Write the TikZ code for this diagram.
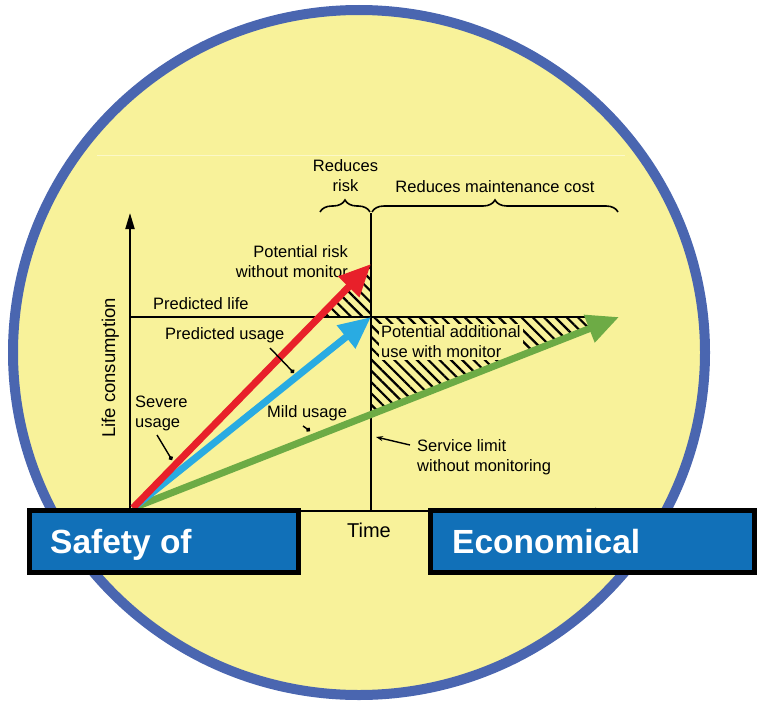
\documentclass[tikz,border=0pt]{standalone}
\usepackage{fontspec}
\setmainfont{Liberation Sans}
\usetikzlibrary{arrows.meta,decorations.pathreplacing,patterns.meta}
\definecolor{circfill}{HTML}{F8F29A}
\definecolor{circline}{HTML}{4A66B0}
\definecolor{boxblue}{HTML}{1170B8}
\definecolor{redarr}{HTML}{E8202A}
\definecolor{bluearr}{HTML}{29ABE2}
\definecolor{greenarr}{HTML}{6DAB45}
\definecolor{faint}{HTML}{FBF8C8}
\tikzset{
 lbl/.style={font=\fontsize{16.5}{20}\selectfont, inner sep=0pt, text=black},
 axisline/.style={line width=2pt, draw=black},
 fat/.style={line width=7pt, -{Triangle[length=32pt,width=28pt]}},
 hatch/.style={pattern={Lines[angle=-45,distance=8pt,line width=2.2pt]}},
 pointer/.style={line width=1.4pt, -{Circle[length=4.5pt]}},
 bluebox/.style={draw=black, line width=5pt, fill=boxblue, inner sep=0pt},
 boxtext/.style={font=\fontsize{33.5}{40}\selectfont\bfseries, text=white, inner sep=0pt},
 bracedeco/.style={decorate, decoration={brace, amplitude=12pt}, line width=1.6pt},
}
\begin{document}
\begin{tikzpicture}[x=1pt,y=-1pt]
\useasboundingbox (0,0) rectangle (757,701);
% background circle
\fill[circfill] (359,352.5) ellipse [x radius=346pt, y radius=342.5pt];
\draw[circline, line width=10pt] (359,352.5) ellipse [x radius=346pt, y radius=342.5pt];
\draw[faint, line width=1pt] (97,155) -- (625,155);
% coordinates
\coordinate (O) at (133,508);
\coordinate (R) at (371,264);
\coordinate (B) at (371,317);
\coordinate (G) at (619,317);
\coordinate (Ytop) at (130,213);
\coordinate (Ybot) at (130,511);
\coordinate (Xend) at (607,511);
\coordinate (Vtop) at (371,213);
\coordinate (Vbot) at (371,511);
\coordinate (Lleft) at (130,317);
\coordinate (Lright) at (600,317);
% hatched regions
\path[hatch] (319,317) -- (371,317) -- (371,264) -- cycle;
\path[hatch] (371,317) -- (619,317) -- (371,414.5) -- cycle;
% axes and lines
\draw[axisline, -{Triangle[length=16pt,width=9pt]}] (Ybot) -- (Ytop);
\draw[axisline, -{Triangle[length=12pt,width=6pt]}] (Ybot) -- (Xend);
\draw[axisline] (Vbot) -- (Vtop);
\draw[axisline] (Lleft) -- (Lright);
% braces
\coordinate (b1a) at (320,212); \coordinate (b1b) at (370,212);
\coordinate (b2a) at (372,212); \coordinate (b2b) at (618,212);
\draw[bracedeco] (b1a) -- (b1b);
\draw[bracedeco] (b2a) -- (b2b);
% labels
\node[lbl, align=center] (rrisk) at (345.5,176) {Reduces\\risk};
\node[lbl, anchor=base] (rcost) at (495,192) {Reduces maintenance cost};
\node[lbl, align=right, anchor=east] (prisk) at (348,262) {Potential risk\\without monitor};
\node[lbl, anchor=base west] (plife) at (153,309) {Predicted life};
\node[lbl, anchor=base west] (pusage) at (165,339) {Predicted usage};
\node[lbl, align=left, anchor=west, fill=circfill, inner sep=2pt] (padd) at (379,342) {Potential additional\\use with monitor};
\node[lbl, align=left, anchor=west] (severe) at (135,413) {Severe\\usage};
\node[lbl, anchor=base west] (mild) at (267,417) {Mild usage};
\node[lbl, align=left, anchor=west] (slimit) at (417,457) {Service limit\\without monitoring};
\node[font=\fontsize{20}{24}\selectfont, inner sep=0pt, anchor=base] (time) at (369,537) {Time};
\node[font=\fontsize{18.5}{22}\selectfont, inner sep=0pt, rotate=90, anchor=base] (lifec) at (115,368) {Life consumption};
% usage arrows
\draw[fat, greenarr] (O) -- (G);
\draw[fat, bluearr] (O) -- (B);
\draw[fat, redarr] (O) -- (R);
% pointers
\coordinate (p1a) at (270,348); \coordinate (p1b) at (294,373);
\coordinate (p2a) at (157,435); \coordinate (p2b) at (172,460);
\coordinate (p3a) at (303,426); \coordinate (p3b) at (310,431);
\coordinate (s1a) at (410,445); \coordinate (s1b) at (376,437);
\draw[pointer] (p1a) -- (p1b);
\draw[pointer] (p2a) -- (p2b);
\draw[pointer] (p3a) -- (p3b);
\draw[line width=1.4pt, -{Stealth[length=7pt,width=5pt]}] (s1a) -- (s1b);
% boxes
\node[bluebox, minimum width=269pt, minimum height=62pt] (safety) at (164,541.5) {};
\node[boxtext, anchor=base west] (safetytxt) at (50,553) {Safety of};
\node[bluebox, minimum width=324pt, minimum height=62pt] (econ) at (592.5,541.5) {};
\node[boxtext, anchor=base west] (econtxt) at (452,553) {Economical};
\end{tikzpicture}
\end{document}
